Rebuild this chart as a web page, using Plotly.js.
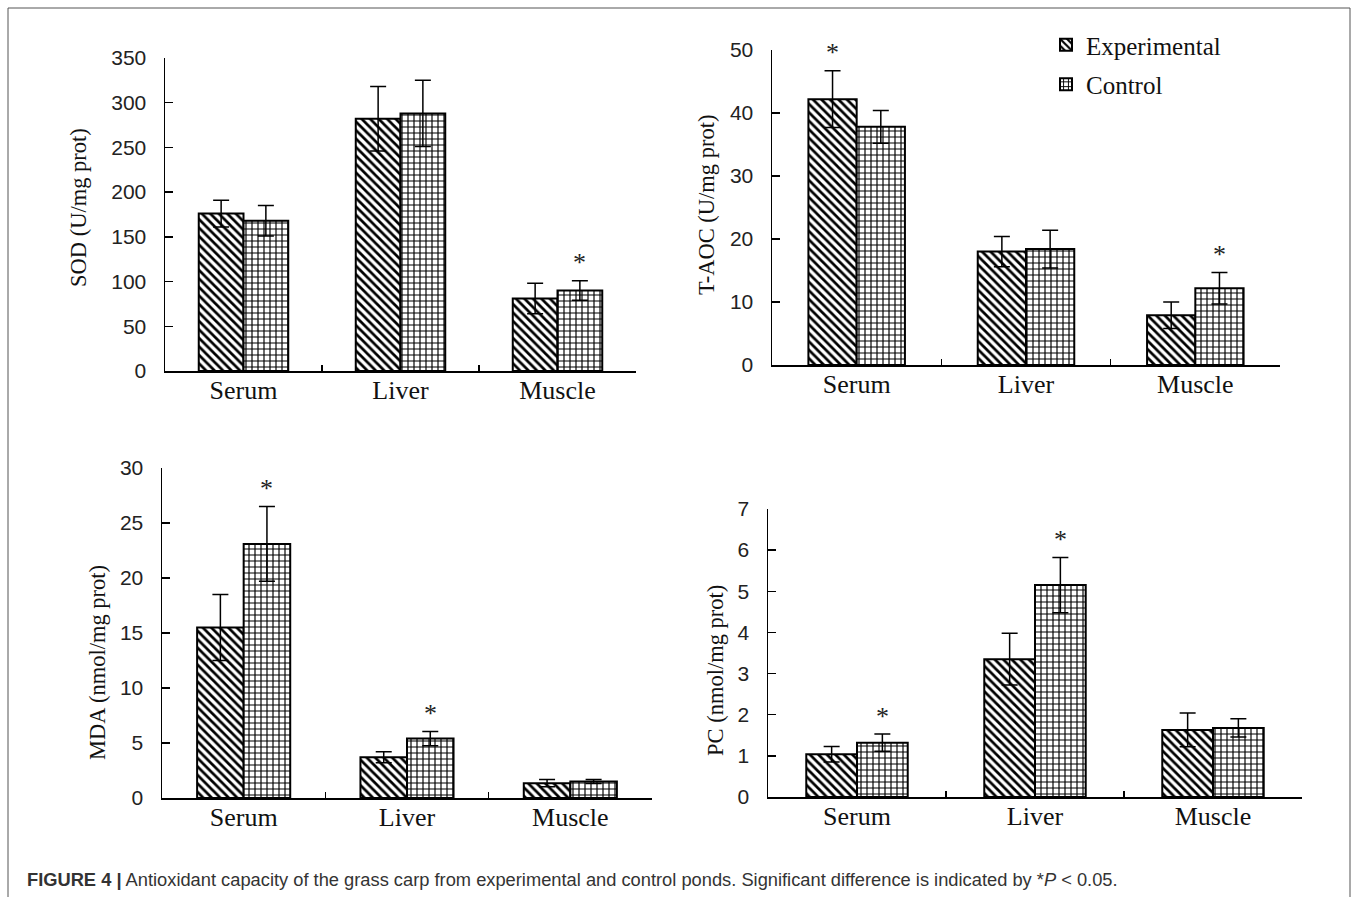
<!DOCTYPE html>
<html>
<head>
<meta charset="utf-8">
<script src="https://cdn.plot.ly/plotly-3.0.1.min.js"></script>
<style>html,body{margin:0;padding:0;background:#fff;}#chart{width:1358px;height:897px;}</style>
</head>
<body>
<div id="chart"></div>
<script>
// ---- data ----
const categories = ['Serum', 'Liver', 'Muscle'];
const seriesNames = ['Experimental', 'Control'];

const sodExp = [176, 282, 81];
const sodExpErr = [15, 36, 17];
const sodCtrl = [168, 288, 90];
const sodCtrlErr = [17, 37, 11];
const sodSigExp = [false, false, false];
const sodSigCtrl = [false, false, true];

const taocExp = [42.2, 18.0, 7.9];
const taocExpErr = [4.5, 2.4, 2.1];
const taocCtrl = [37.8, 18.4, 12.2];
const taocCtrlErr = [2.6, 3.0, 2.5];
const taocSigExp = [true, false, false];
const taocSigCtrl = [false, false, true];

const mdaExp = [15.5, 3.7, 1.35];
const mdaExpErr = [3.0, 0.5, 0.33];
const mdaCtrl = [23.1, 5.4, 1.5];
const mdaCtrlErr = [3.4, 0.65, 0.18];
const mdaSigExp = [false, false, false];
const mdaSigCtrl = [true, true, false];

const pcExp = [1.04, 3.35, 1.63];
const pcExpErr = [0.19, 0.63, 0.41];
const pcCtrl = [1.32, 5.15, 1.68];
const pcCtrlErr = [0.21, 0.67, 0.22];
const pcSigExp = [false, false, false];
const pcSigCtrl = [true, true, false];

const yTitles = ['SOD (U/mg prot)', 'T-AOC (U/mg prot)', 'MDA (nmol/mg prot)', 'PC (nmol/mg prot)'];
const yRanges = [[0, 350], [0, 50], [0, 30], [0, 7]];
const yDticks = [50, 10, 5, 1];
const captionText = '<b>FIGURE 4 |</b> Antioxidant capacity of the grass carp from experimental and control ponds. Significant difference is indicated by *<i>P</i> &lt; 0.05.';

// ---- layout helpers (pixel -> paper) ----
const W = 1358, H = 897;
const px = x => x / W;
const py = y => 1 - y / H;

const panels = [
  {exp: sodExp, expErr: sodExpErr, ctrl: sodCtrl, ctrlErr: sodCtrlErr, sigE: sodSigExp, sigC: sodSigCtrl,
   xd: [165, 636], yd: [58, 371], title: [78, 208]},
  {exp: taocExp, expErr: taocExpErr, ctrl: taocCtrl, ctrlErr: taocCtrlErr, sigE: taocSigExp, sigC: taocSigCtrl,
   xd: [772, 1280], yd: [50, 365], title: [706, 205]},
  {exp: mdaExp, expErr: mdaExpErr, ctrl: mdaCtrl, ctrlErr: mdaCtrlErr, sigE: mdaSigExp, sigC: mdaSigCtrl,
   xd: [162, 652], yd: [468, 798], title: [97, 663]},
  {exp: pcExp, expErr: pcExpErr, ctrl: pcCtrl, ctrlErr: pcCtrlErr, sigE: pcSigExp, sigC: pcSigCtrl,
   xd: [768, 1302], yd: [509, 797], title: [715, 671]}
];

const BARGAP = 0.43;
const expPattern = {shape: '\\', fgcolor: '#000', bgcolor: '#fff', size: 6, solidity: 0.45};
const ctrlPattern = {shape: '+', fgcolor: '#000', bgcolor: '#fff', size: 6, solidity: 0.35};

const traces = [];
const annotations = [];
const layout = {
  width: W, height: H,
  margin: {l: 0, r: 0, t: 0, b: 0},
  paper_bgcolor: '#fff', plot_bgcolor: 'rgba(0,0,0,0)',
  barmode: 'group', bargap: BARGAP, bargroupgap: 0,
  showlegend: true,
  legend: {x: px(1046), y: py(22), xanchor: 'left', yanchor: 'top',
           font: {family: 'Liberation Serif', size: 25, color: '#111'},
           bgcolor: 'rgba(0,0,0,0)', tracegroupgap: 4},
  shapes: [{type: 'rect', xref: 'paper', yref: 'paper',
            x0: px(8), x1: px(1350), y0: py(8), y1: py(905),
            line: {color: '#555', width: 1}, fillcolor: 'rgba(0,0,0,0)'}],
  annotations: annotations
};

panels.forEach((p, i) => {
  const n = i === 0 ? '' : String(i + 1);
  const xa = 'x' + n, ya = 'y' + n;
  const errStyle = {type: 'data', visible: true, color: '#000', thickness: 1.5, width: 8};
  traces.push({
    type: 'bar', name: seriesNames[0], x: categories, y: p.exp,
    xaxis: xa, yaxis: ya, legendgroup: 'exp', showlegend: i === 0,
    marker: {color: '#fff', line: {color: '#000', width: 2}, pattern: expPattern},
    error_y: Object.assign({array: p.expErr}, errStyle), hoverinfo: 'skip'
  });
  traces.push({
    type: 'bar', name: seriesNames[1], x: categories, y: p.ctrl,
    xaxis: xa, yaxis: ya, legendgroup: 'ctrl', showlegend: i === 0,
    marker: {color: '#fff', line: {color: '#000', width: 2}, pattern: ctrlPattern},
    error_y: Object.assign({array: p.ctrlErr}, errStyle), hoverinfo: 'skip'
  });

  layout['xaxis' + n] = {
    domain: [px(p.xd[0]), px(p.xd[1])], anchor: ya,
    type: 'category', range: [-0.5, 2.5], fixedrange: true,
    showline: true, linecolor: '#000', linewidth: 1.5,
    ticks: 'inside', tickson: 'boundaries', ticklen: 6, tickwidth: 1.5, tickcolor: '#000',
    ticklabelstandoff: -5,
    tickfont: {family: 'Liberation Serif', size: 26, color: '#111'},
    showgrid: false, zeroline: false
  };
  layout['yaxis' + n] = {
    domain: [py(p.yd[1]), py(p.yd[0])], anchor: xa,
    range: yRanges[i], dtick: yDticks[i], tick0: 0, fixedrange: true,
    showline: true, linecolor: '#000', linewidth: 1.5,
    ticks: 'inside', ticklen: 8, tickwidth: 1.5, tickcolor: '#000',
    ticklabelstandoff: 13,
    tickfont: {family: 'Liberation Sans', size: 21, color: '#222'},
    showgrid: false, zeroline: false
  };

  // y-axis title
  annotations.push({
    xref: 'paper', yref: 'paper', x: px(p.title[0]), y: py(p.title[1]),
    text: yTitles[i], textangle: -90, showarrow: false,
    xanchor: 'center', yanchor: 'middle',
    font: {family: 'Liberation Serif', size: 22.5, color: '#111'}
  });

  // significance stars
  const catW = (p.xd[1] - p.xd[0]) / categories.length;
  const barW = catW * (1 - BARGAP) / 2;
  categories.forEach((c, k) => {
    [[p.sigE, p.exp, p.expErr, -1], [p.sigC, p.ctrl, p.ctrlErr, 1]].forEach(([sig, v, e, side]) => {
      if (sig[k]) {
        annotations.push({
          xref: xa, yref: ya, x: c, y: v[k] + e[k],
          xshift: side * barW / 2, yshift: 18,
          text: '*', showarrow: false, xanchor: 'center', yanchor: 'middle',
          font: {family: 'Liberation Serif', size: 26, color: '#222'}
        });
      }
    });
  });
});

// caption
annotations.push({
  xref: 'paper', yref: 'paper', x: px(25), y: py(879),
  xanchor: 'left', yanchor: 'middle', showarrow: false,
  text: captionText,
  font: {family: 'Liberation Sans', size: 18.3, color: '#333'}
});

Plotly.newPlot('chart', traces, layout, {displayModeBar: false, staticPlot: true});
</script>
</body>
</html>
